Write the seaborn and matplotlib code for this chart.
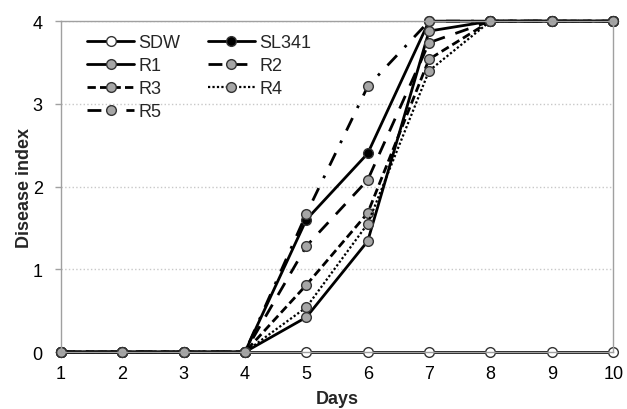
import pandas as pd
import numpy as np

import matplotlib
matplotlib.use('Agg')
import matplotlib.pyplot as plt
import seaborn as sns

days = [1, 2, 3, 4, 5, 6, 7, 8, 9, 10]
sdw = [0, 0, 0, 0, 0, 0, 0, 0, 0, 0]
sl341 = [0, 0, 0, 0, 1.60, 2.40, 4.0, 4, 4, 4]
r1 = [0, 0, 0, 0, 0.42, 1.34, 3.88, 4, 4, 4]
r2 = [0, 0, 0, 0, 1.28, 2.08, 3.74, 4, 4, 4]
r3 = [0, 0, 0, 0, 0.81, 1.68, 3.54, 4, 4, 4]
r4 = [0, 0, 0, 0, 0.54, 1.55, 3.40, 4, 4, 4]
r5 = [0, 0, 0, 0, 1.67, 3.21, 4.0, 4, 4, 4]

sns.set_style('white')
plt.rcParams['font.family'] = ['Liberation Sans', 'DejaVu Sans']

fig = plt.figure(figsize=(6.27, 4.1), dpi=100)
ax = fig.add_axes([0.097, 0.139, 0.881, 0.807])

gris = '#a6a6a6'
# nombre, valores, estilo de linea, relleno del marcador, grosor
series = [
    ('SDW', sdw, '-', 'white', 2.0),
    ('SL341', sl341, '-', 'black', 2.0),
    ('R1', r1, '-', gris, 2.0),
    ('R2', r2, (0, (5, 4)), gris, 2.0),
    ('R3', r3, (0, (3, 1.5)), gris, 2.0),
    ('R4', r4, (0, (1, 1)), gris, 1.6),
    ('R5', r5, (0, (5, 4, 1, 4)), gris, 2.0),
]

lineas = {}
for nombre, vals, ls, fc, lw in series:
    df = pd.DataFrame({'dia': days, 'indice': vals})
    sns.lineplot(data=df, x='dia', y='indice', ax=ax, color='black',
                 linewidth=lw, marker='o', markersize=7,
                 markerfacecolor=fc, markeredgecolor='#333333',
                 markeredgewidth=1.0, clip_on=False, label=nombre)
    ln = ax.get_lines()[-1]
    ln.set_linestyle(ls)
    lineas[nombre] = ln

ax.set_xlim(1, 10)
ax.set_ylim(0, 4)
ax.set_xticks(days)
ax.set_yticks([0, 1, 2, 3, 4])
ax.tick_params(axis='y', length=4, width=1, color='#a0a0a0', left=True,
               labelsize=13, labelcolor='black', pad=9)
ax.tick_params(axis='x', length=0, labelsize=13, labelcolor='black', pad=9)
ax.yaxis.grid(True, color='#c8c8c8', linestyle=':', linewidth=1)
for s in ax.spines.values():
    s.set_color('#a0a0a0')
    s.set_linewidth(1)

ax.set_xlabel('Days', fontsize=13, fontweight='bold', labelpad=6)
ax.set_ylabel('Disease index', fontsize=13, fontweight='bold', labelpad=0)

orden = ['SDW', 'R1', 'R3', 'R5', 'SL341', 'R2', 'R4']
ax.legend([lineas[n] for n in orden], orden, ncol=2, loc='upper left',
          bbox_to_anchor=(0.015, 1.015), frameon=False, fontsize=13,
          handlelength=2.6, handletextpad=0.25, columnspacing=1.5,
          labelspacing=0.33, borderaxespad=0.6)

plt.savefig('out.png', dpi=100)
